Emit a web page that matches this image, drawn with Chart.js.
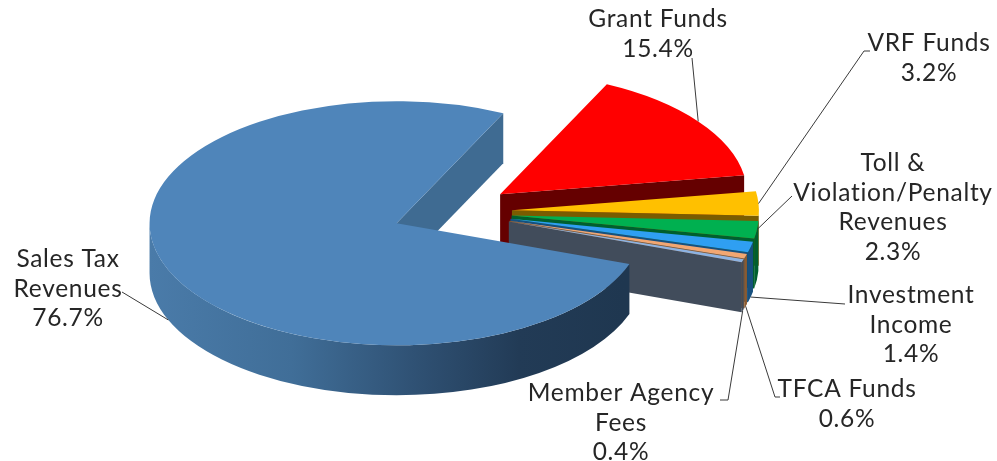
<!DOCTYPE html>
<html>
<head>
<meta charset="utf-8">
<style>
  html, body { margin: 0; padding: 0; background: #fff; }
  canvas { display: block; }
</style>
<script src="https://cdn.jsdelivr.net/npm/chart.js@4"></script>
</head>
<body>
<canvas id="myChart" width="997" height="461"></canvas>
<script>
const categories = ["Grant Funds", "VRF Funds", "Toll & Violation/Penalty Revenues", "Investment Income", "TFCA Funds", "Member Agency Fees", "Sales Tax Revenues"];
const shares = [15.4, 3.2, 2.3, 1.4, 0.6, 0.4, 76.7];

const topColors = ["#ff0000", "#ffc000", "#00b050", "#2f9ff2", "#f2a772", "#8db3e2", "#4f85ba"];
const wallColors = ["#650000", "#7a5c00", "#005f2e", "#17507e", "#8a5a30", "#414c5b", null];

// 3d look: pie is squashed and each slice gets pushed out from the middle
const squash = 0.494;
const depth = 50;
const explode = 60;
const drawOrder = [0, 1, 2, 3, 4, 5, 6];

// label text position, first line baseline + where the leader line starts
const labelLayout = [
  { x: 658, y: 27, lines: ["Grant Funds"], leader: [[692, 58]] },
  { x: 929, y: 51, lines: ["VRF Funds"], leader: [[870, 51], [864, 51]] },
  { x: 893, y: 171, lines: ["Toll &", "Violation/Penalty", "Revenues"], leader: [[792, 196]] },
  { x: 911, y: 303, lines: ["Investment", "Income"], leader: [[845, 304]] },
  { x: 847, y: 397, lines: ["TFCA Funds"], leader: [[780, 397], [775, 397]] },
  { x: 621, y: 401, lines: ["Member Agency", "Fees"], leader: [[720, 400], [728, 400]] },
  { x: 68, y: 267, lines: ["Sales Tax", "Revenues"], leader: [[122, 292]] }
];
const lineHeight = 29.5;

function sliceGeometry(arc) {
  const p = arc.getProps(["x", "y", "startAngle", "endAngle", "outerRadius"], true);
  const mid = (p.startAngle + p.endAngle) / 2;
  return {
    cx: p.x + Math.cos(mid) * explode,
    cy: p.y + Math.sin(mid) * explode * squash,
    rx: p.outerRadius,
    ry: p.outerRadius * squash,
    a1: p.startAngle,
    a2: p.endAngle,
    mid: mid
  };
}

function drawWalls(ctx, g, color, outerFill) {
  // cut face at the end of the slice, only if it looks to the viewer
  if (Math.cos(g.a2) > 0) {
    const ex = g.cx + Math.cos(g.a2) * g.rx;
    const ey = g.cy + Math.sin(g.a2) * g.ry;
    ctx.beginPath();
    ctx.moveTo(g.cx, g.cy);
    ctx.lineTo(ex, ey);
    ctx.lineTo(ex, ey + depth);
    ctx.lineTo(g.cx, g.cy + depth);
    ctx.closePath();
    ctx.fillStyle = color;
    ctx.fill();
  }
  // round outer side, front part only
  const lo = Math.max(g.a1, 0);
  const hi = Math.min(g.a2, Math.PI);
  if (hi > lo) {
    ctx.beginPath();
    ctx.ellipse(g.cx, g.cy, g.rx, g.ry, 0, lo, hi);
    ctx.ellipse(g.cx, g.cy + depth, g.rx, g.ry, 0, hi, lo, true);
    ctx.closePath();
    ctx.fillStyle = outerFill;
    ctx.fill();
  }
}

const pie3d = {
  id: "pie3d",
  beforeDatasetsDraw(chart) {
    const ctx = chart.ctx;
    const arcs = chart.getDatasetMeta(0).data;
    drawOrder.forEach((i) => {
      const g = sliceGeometry(arcs[i]);
      let wall = wallColors[i];
      let outer = wall;
      if (wall === null) {
        wall = "#3f6b92";
        outer = ctx.createLinearGradient(g.cx - g.rx, 0, g.cx + g.rx * 0.92, 0);
        outer.addColorStop(0, "#4a7ba9");
        outer.addColorStop(0.3, "#406e98");
        outer.addColorStop(0.58, "#2e4f71");
        outer.addColorStop(0.78, "#223b56");
        outer.addColorStop(1, "#1f3750");
      }
      drawWalls(ctx, g, wall, outer);

      // top of the slice is the library's own arc, squashed
      const mid = g.mid;
      ctx.save();
      ctx.translate(arcs[i].x, arcs[i].y);
      ctx.scale(1, squash);
      ctx.translate(-arcs[i].x, -arcs[i].y);
      ctx.translate(Math.cos(mid) * explode, Math.sin(mid) * explode);
      arcs[i].draw(ctx);
      ctx.restore();
    });
    return false;
  },
  afterDraw(chart) {
    const ctx = chart.ctx;
    const arcs = chart.getDatasetMeta(0).data;
    ctx.save();
    ctx.strokeStyle = "#3a3a3a";
    ctx.lineWidth = 1;
    ctx.fillStyle = "#262626";
    ctx.font = "24.5px Lato";
    ctx.letterSpacing = "0.7px";
    ctx.textAlign = "center";
    ctx.textBaseline = "alphabetic";
    labelLayout.forEach((lab, i) => {
      const g = sliceGeometry(arcs[i]);
      const ax = g.cx + Math.cos(g.mid) * g.rx;
      let ay = g.cy + Math.sin(g.mid) * g.ry;
      if (Math.sin(g.mid) > 0.15) ay += depth;
      ctx.beginPath();
      lab.leader.forEach((pt, k) => {
        if (k === 0) ctx.moveTo(pt[0], pt[1]);
        else ctx.lineTo(pt[0], pt[1]);
      });
      ctx.lineTo(ax, ay);
      ctx.stroke();

      const text = lab.lines.concat([shares[i].toFixed(1) + "%"]);
      text.forEach((t, k) => ctx.fillText(t, lab.x, lab.y + k * lineHeight));
    });
    ctx.restore();
  }
};

const myChart = new Chart(document.getElementById("myChart"), {
  type: "pie",
  data: {
    labels: categories,
    datasets: [{
      data: shares,
      backgroundColor: topColors,
      borderWidth: 0
    }]
  },
  options: {
    responsive: false,
    animation: false,
    rotation: 25.6,
    radius: 247,
    layout: { padding: { right: 93, bottom: 37 } },
    plugins: { legend: { display: false }, tooltip: { enabled: false } }
  },
  plugins: [pie3d]
});
</script>
</body>
</html>
